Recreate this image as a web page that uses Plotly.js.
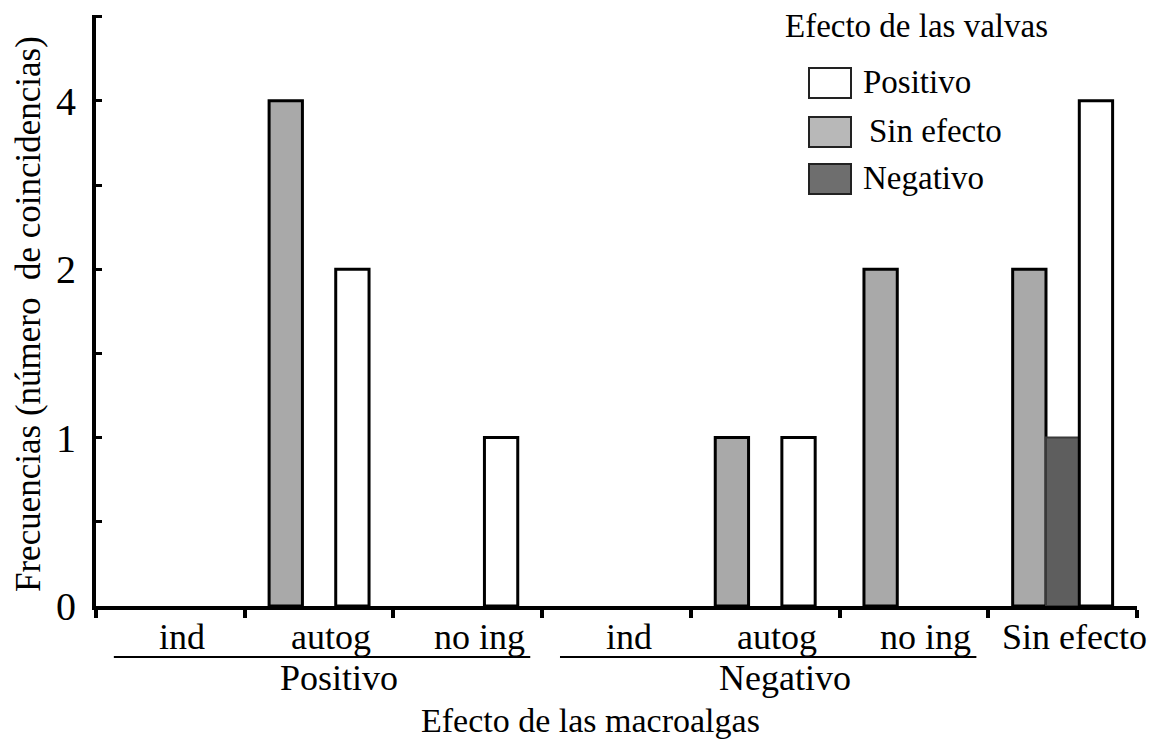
<!DOCTYPE html>
<html>
<head>
<meta charset="utf-8">
<script src="https://cdn.plot.ly/plotly-3.0.1.min.js"></script>
<style>html,body{margin:0;padding:0;background:#fff;}#chart{width:1158px;height:745px;}</style>
</head>
<body>
<div id="chart"></div>
<script>
// ---- data ----
const subCategories = ["ind", "autog", "no ing", "ind", "autog", "no ing", "Sin efecto"];
const groupNames = ["Positivo", "Negativo"];
const groupMembers = [[0, 1, 2], [3, 4, 5]];
const seriesNames = ["Sin efecto", "Negativo", "Positivo"];
const sinEfecto = [0, 4, 0, 0, 1, 2, 2];
const negativo  = [0, 0, 0, 0, 0, 0, 1];
const positivo  = [0, 2, 1, 0, 1, 0, 4];
const yTickValues = [0, 1, 2, 4];
const legendOrder = ["Positivo", "Sin efecto", "Negativo"];

const barColors = {"Sin efecto": "#a9a9a9", "Negativo": "#5e5e5e", "Positivo": "#ffffff"};
const lineColors = {"Sin efecto": "#000000", "Negativo": "#3a3a3a", "Positivo": "#000000"};
const legendColors = {"Sin efecto": "#b8b8b8", "Negativo": "#6e6e6e", "Positivo": "#ffffff"};

// scale of the original axis: 0,1,2,4 equally spaced (log2 with 0 at one step below 1)
function pos(v) { return v === 0 ? 0 : Math.log2(v) + 1; }
// zero-height bars are not drawn in the original
function barPos(v) { return v === 0 ? null : pos(v); }

const FONT = "Liberation Serif, Times New Roman, serif";
const W = 1158, H = 745;
const M = {l: 96, r: 21, t: 15, b: 139};
const PW = W - M.l - M.r, PH = H - M.t - M.b;
const px2x = x => (x - M.l) / PW;
const px2y = y => (H - M.b - y) / PH;

const xs = subCategories.map((_, i) => i);
const seriesData = {"Sin efecto": sinEfecto, "Negativo": negativo, "Positivo": positivo};

const traces = seriesNames.map(name => ({
  type: "bar",
  name: name,
  x: xs,
  y: seriesData[name].map(barPos),
  customdata: seriesData[name],
  hovertemplate: name + ": %{customdata}<extra></extra>",
  marker: {color: barColors[name], line: {color: lineColors[name], width: name === "Negativo" ? 2 : 3}},
  showlegend: false
}));

const annotations = [];
const shapes = [];

subCategories.forEach((t, i) => {
  annotations.push({x: i, xref: "x", xshift: 12, y: px2y(637), yref: "paper", text: t, showarrow: false,
    xanchor: "center", yanchor: "middle", font: {family: FONT, size: 36, color: "#000"}});
});
groupNames.forEach((g, k) => {
  const mem = groupMembers[k];
  const first = mem[0], last = mem[mem.length - 1];
  shapes.push({type: "line", xref: "x", yref: "paper", x0: first - 0.38, x1: last + 0.42,
    y0: px2y(657), y1: px2y(657), line: {color: "#000", width: 2}});
  annotations.push({x: (first + last) / 2, xref: "x", xshift: 20, y: px2y(678), yref: "paper", text: g, showarrow: false,
    xanchor: "center", yanchor: "middle", font: {family: FONT, size: 36, color: "#000"}});
});

// axis titles
annotations.push({x: px2x(590), xref: "paper", y: px2y(720), yref: "paper", text: "Efecto de las macroalgas",
  showarrow: false, xanchor: "center", yanchor: "middle", font: {family: FONT, size: 34, color: "#000"}});
annotations.push({x: px2x(28), xref: "paper", y: px2y(314), yref: "paper", text: "Frecuencias (número\u00a0 de coincidencias)",
  textangle: -90, showarrow: false, xanchor: "center", yanchor: "middle", font: {family: FONT, size: 35, color: "#000"}});

// legend (drawn manually)
annotations.push({x: px2x(916), xref: "paper", y: px2y(26), yref: "paper", text: "Efecto de las valvas",
  showarrow: false, xanchor: "center", yanchor: "middle", font: {family: FONT, size: 33, color: "#000"}});
const boxTops = [68, 117, 164];
legendOrder.forEach((name, k) => {
  const y0 = boxTops[k], y1 = y0 + 30;
  shapes.push({type: "rect", xref: "paper", yref: "paper", x0: px2x(809), x1: px2x(851), y0: px2y(y1), y1: px2y(y0),
    fillcolor: legendColors[name], line: {color: "#222", width: 2}});
  annotations.push({x: px2x(name === "Sin efecto" ? 867 : 861), xref: "paper", y: px2y(y0 + 14), yref: "paper", text: name,
    showarrow: false, xanchor: "left", yanchor: "middle", font: {family: FONT, size: 33, color: "#000"}});
});

const layout = {
  width: W, height: H,
  margin: M,
  paper_bgcolor: "#fff", plot_bgcolor: "#fff",
  barmode: "group", bargap: 0.328, bargroupgap: 0,
  showlegend: false,
  xaxis: {
    range: [-0.5, 6.5], showgrid: false, zeroline: false,
    showline: true, linecolor: "#000", linewidth: 4,
    tickmode: "array", tickvals: [-0.5, 0.5, 1.5, 2.5, 3.5, 4.5, 5.5, 6.5],
    ticktext: ["", "", "", "", "", "", "", ""], showticklabels: false,
    ticks: "outside", ticklen: 8, tickwidth: 4, tickcolor: "#000"
  },
  yaxis: {
    range: [0, 3.51], showgrid: false, zeroline: false,
    showline: true, linecolor: "#000", linewidth: 4,
    tickmode: "array", tickvals: yTickValues.map(pos), ticktext: yTickValues.map(String),
    ticks: "inside", ticklen: 6, tickwidth: 3, tickcolor: "#000",
    tickfont: {family: FONT, size: 40, color: "#000"}, ticklabelstandoff: 8,
    minor: {tickmode: "array", tickvals: [0.5, 1.5, 2.5, 3.5], ticks: "inside", ticklen: 6, tickwidth: 3, tickcolor: "#000"}
  },
  annotations: annotations,
  shapes: shapes
};

Plotly.newPlot("chart", traces, layout, {displayModeBar: false, staticPlot: true});
</script>
</body>
</html>
